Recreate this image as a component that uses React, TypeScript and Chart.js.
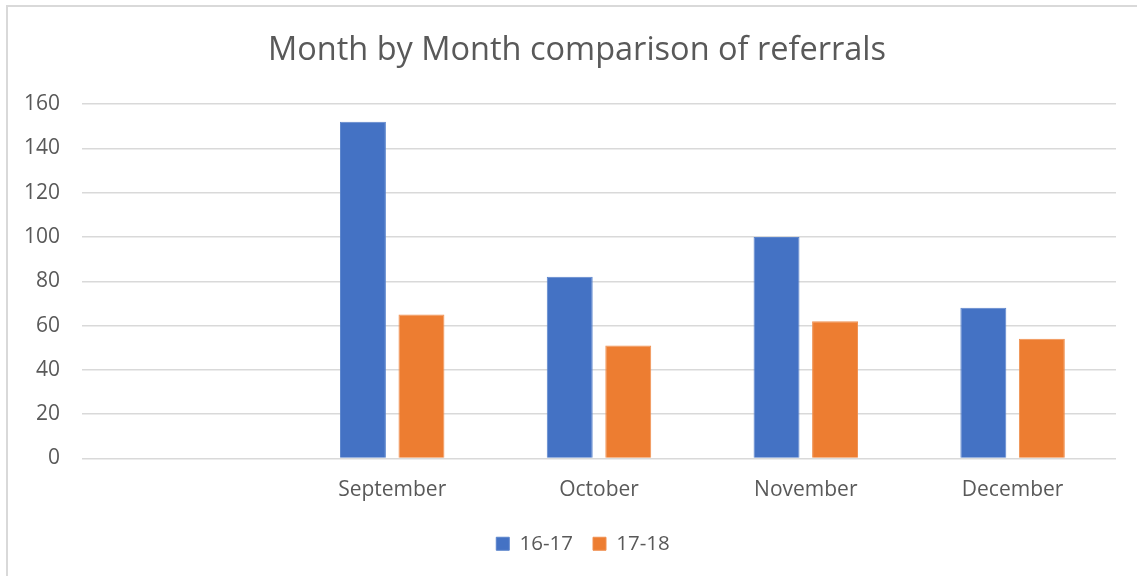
import React, { useEffect, useRef } from "react";
import { Chart, registerables } from "chart.js";

Chart.register(...registerables);

const categories = ["", "September", "October", "November", "December"];
const series1617 = [null, 152, 82, 100, 68];
const series1718 = [null, 65, 51, 62, 54];
const seriesNames = ["16-17", "17-18"];
const chartTitle = "Month by Month comparison of referrals";

const FONT = "'Open Sans', sans-serif";
const TEXT = "#595959";
const GRID = "#d9d9d9";

// shift the title and legend boxes to centre them like the reference
const shiftBoxes = {
  id: "shiftBoxes",
  afterLayout(chart: any) {
    const t = chart.titleBlock;
    if (t) {
      t.left += 19;
      t.right += 19;
    }
    const l = chart.legend;
    if (l) {
      l.left += 25;
      l.right += 25;
    }
  },
};

export default function App() {
  const ref = useRef<HTMLCanvasElement | null>(null);
  useEffect(() => {
    if (!ref.current) return;
    const chart = new Chart(ref.current, {
      type: "bar",
      data: {
        labels: categories,
        datasets: [
          {
            label: seriesNames[0],
            data: series1617,
            backgroundColor: "#4472C4",
            borderColor: "#5b84cc",
            borderWidth: 1,
          },
          {
            label: seriesNames[1],
            data: series1718,
            backgroundColor: "#ED7D31",
            borderColor: "#f09050",
            borderWidth: 1,
          },
        ],
      },
      plugins: [shiftBoxes],
      options: {
        animation: false,
        responsive: true,
        maintainAspectRatio: false,
        layout: { padding: { left: 0, right: 21, top: 0, bottom: 12 } },
        datasets: {
          bar: { categoryPercentage: 0.566, barPercentage: 0.785 },
        },
        plugins: {
          title: {
            display: true,
            text: chartTitle,
            color: TEXT,
            font: { family: FONT, size: 32.5, weight: "normal" },
            padding: { top: 31, bottom: 34 },
          },
          legend: {
            display: true,
            position: "bottom",
            labels: {
              color: TEXT,
              font: { family: FONT, size: 20.5 },
              boxWidth: 13,
              boxHeight: 13,
              padding: 20,
            },
          },
          tooltip: { enabled: false },
        },
        scales: {
          x: {
            grid: { display: false },
            border: { display: false },
            ticks: { color: TEXT, font: { family: FONT, size: 21 }, padding: 11, maxRotation: 0 },
            afterFit: (s: any) => {
              s.height = 55;
            },
          },
          y: {
            min: 0,
            max: 160,
            ticks: { stepSize: 20, color: TEXT, font: { family: FONT, size: 21 }, padding: 22 },
            grid: { color: GRID, lineWidth: 1.5, drawTicks: false },
            border: { display: false },
            afterFit: (s: any) => {
              s.width = 82;
            },
          },
        },
      },
    });
    return () => chart.destroy();
  }, []);
  return (
    <div style={{ position: "fixed", left: 0, top: 0, width: 1137, height: 576, overflow: "hidden", background: "#fff" }}>
      <div
        style={{
          position: "absolute",
          left: 6,
          top: 5,
          width: 1200,
          height: 700,
          borderLeft: "2px solid #d9d9d9",
          borderTop: "2px solid #d9d9d9",
        }}
      />
      <div style={{ position: "absolute", left: 0, top: 0, width: 1137, height: 576 }}>
        <canvas ref={ref} />
      </div>
    </div>
  );
}
